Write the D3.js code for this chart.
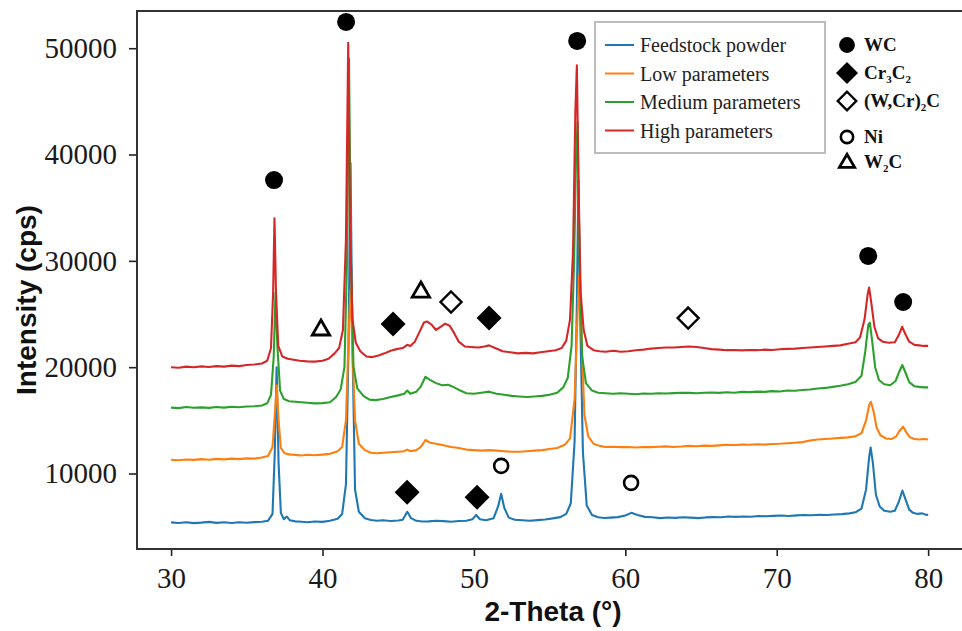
<!DOCTYPE html>
<html>
<head>
<meta charset="utf-8">
<script src="https://cdn.jsdelivr.net/npm/d3@7"></script>
<style>
  body { margin:0; background:#fff; }
  svg { display:block; }
</style>
</head>
<body>
<svg width="962" height="631"></svg>
<script>
// 2-theta / intensity pairs
const feedstock = [
  [30,5400],[30.5,5350],[31,5420],[31.5,5330],[32,5380],[32.5,5450],[33,5360],[33.5,5410],[34,5340],[34.5,5420],
  [35,5370],[35.5,5430],[36,5460],[36.4,5550],[36.7,6200],[36.85,12000],[36.97,20000],[37.1,11000],[37.25,6300],
  [37.45,5700],[37.65,5950],[37.85,5600],[38.2,5500],[38.6,5470],[39,5420],[39.5,5480],[40,5450],[40.5,5560],
  [41,5750],[41.3,6200],[41.55,9000],[41.72,22000],[41.85,39200],[41.98,22000],[42.15,8500],[42.4,6400],[42.8,5800],
  [43.2,5620],[43.6,5560],[44,5600],[44.5,5540],[45,5580],[45.3,5650],[45.6,6400],[45.85,5800],[46.2,5550],
  [46.6,5480],[47,5500],[47.5,5560],[48,5520],[48.5,5470],[49,5530],[49.5,5560],[49.9,5700],[50.15,6100],
  [50.4,5700],[50.8,5600],[51.3,5800],[51.6,6900],[51.8,8100],[52,6800],[52.3,5850],[52.7,5650],[53.2,5600],
  [53.7,5560],[54.2,5620],[54.7,5680],[55.2,5780],[55.7,5900],[56.1,6200],[56.4,7200],[56.65,13000],[56.8,26000],
  [56.9,37600],[57.03,24000],[57.2,12000],[57.45,7000],[57.8,6100],[58.2,5880],[58.6,5820],[59,5850],[59.5,5900],
  [60,6050],[60.4,6300],[60.8,6100],[61.3,5920],[61.8,5880],[62.3,5800],[62.8,5860],[63.3,5830],[63.8,5880],
  [64.3,5850],[64.8,5800],[65.3,5870],[65.8,5900],[66.3,5880],[66.8,5950],[67.3,5920],[67.8,5960],[68.3,5940],
  [68.8,6000],[69.3,5980],[69.8,6020],[70.3,6050],[70.8,6000],[71.3,6060],[71.8,6100],[72.3,6080],[72.8,6120],
  [73.3,6100],[73.8,6150],[74.3,6180],[74.8,6250],[75.2,6350],[75.6,6700],[75.9,8500],[76.1,11500],[76.2,12450],
  [76.35,11000],[76.55,8000],[76.8,6900],[77.1,6500],[77.5,6400],[77.8,6500],[78.05,7300],[78.3,8400],[78.5,7600],
  [78.75,6600],[79,6300],[79.3,6200],[79.6,6250],[79.9,6100],[80,6150]
];
const lowParams = [
  [30,11300],[30.5,11250],[31,11320],[31.5,11280],[32,11350],[32.5,11300],[33,11380],[33.5,11330],[34,11400],
  [34.5,11350],[35,11420],[35.5,11400],[36,11500],[36.4,11650],[36.7,12500],[36.85,15500],[36.98,18300],[37.1,15000],
  [37.25,12400],[37.5,11900],[37.8,11800],[38.2,11750],[38.6,11700],[39,11760],[39.5,11720],[40,11780],[40.5,11850],
  [41,12100],[41.3,12500],[41.55,15000],[41.75,24000],[41.85,27300],[41.97,22000],[42.15,15000],[42.4,12800],
  [42.8,12200],[43.2,11950],[43.6,11900],[44,11950],[44.5,12000],[45,12050],[45.4,12100],[45.6,12250],[45.8,12100],
  [46.2,12200],[46.5,12500],[46.8,13150],[47.1,12900],[47.5,12800],[48,12650],[48.5,12500],[49,12400],[49.5,12250],
  [50,12200],[50.5,12150],[51,12200],[51.5,12150],[52,12100],[52.5,12050],[53,12050],[53.5,12100],[54,12150],
  [54.5,12200],[55,12300],[55.5,12400],[56,12700],[56.35,13300],[56.65,17000],[56.82,24000],[56.95,28700],
  [57.1,23000],[57.3,15500],[57.55,13500],[57.9,12800],[58.3,12600],[58.7,12500],[59.2,12520],[59.7,12480],
  [60.2,12500],[60.7,12450],[61.2,12500],[61.7,12480],[62.2,12520],[62.7,12550],[63.2,12500],[63.7,12540],
  [64.2,12600],[64.7,12560],[65.2,12620],[65.7,12600],[66.2,12650],[66.7,12700],[67.2,12680],[67.7,12720],
  [68.2,12700],[68.7,12750],[69.2,12720],[69.7,12780],[70.2,12800],[70.7,12850],[71.2,12900],[71.7,12950],
  [72.2,13100],[72.7,13200],[73.2,13250],[73.7,13300],[74.2,13350],[74.7,13400],[75.2,13500],[75.6,13800],
  [75.9,15000],[76.1,16400],[76.22,16750],[76.4,15800],[76.6,14300],[76.85,13600],[77.2,13300],[77.6,13250],
  [77.9,13500],[78.1,14000],[78.35,14400],[78.55,13900],[78.8,13400],[79.1,13250],[79.4,13200],[79.7,13250],[80,13200]
];
const mediumParams = [
  [30,16200],[30.5,16150],[31,16250],[31.5,16180],[32,16220],[32.5,16170],[33,16260],[33.5,16200],[34,16280],
  [34.5,16230],[35,16300],[35.5,16320],[36,16400],[36.35,16600],[36.6,17400],[36.78,21000],[36.9,27000],[37.02,22000],
  [37.2,17800],[37.45,17000],[37.8,16800],[38.2,16750],[38.6,16700],[39,16650],[39.5,16600],[40,16620],[40.5,16700],
  [40.9,17200],[41.2,17900],[41.45,20000],[41.62,30000],[41.75,49000],[41.88,30000],[42.05,20000],[42.3,18000],
  [42.7,17300],[43.1,16950],[43.5,16900],[44,17000],[44.5,17200],[45,17350],[45.4,17500],[45.6,17800],[45.8,17500],
  [46.2,17700],[46.5,18200],[46.8,19100],[47.1,18800],[47.5,18500],[47.9,18300],[48.3,18350],[48.7,18100],
  [49.1,17800],[49.5,17550],[50,17500],[50.5,17600],[51,17700],[51.5,17500],[52,17400],[52.5,17300],[53,17250],
  [53.5,17200],[54,17250],[54.5,17300],[55,17400],[55.5,17600],[55.9,18100],[56.2,19000],[56.45,22000],
  [56.62,30000],[56.75,40000],[56.85,43000],[56.98,30000],[57.15,21000],[57.4,18500],[57.8,17800],[58.2,17600],
  [58.7,17550],[59.2,17500],[59.7,17550],[60.2,17500],[60.7,17450],[61.2,17520],[61.7,17500],[62.2,17550],
  [62.7,17520],[63.2,17560],[63.7,17600],[64.2,17580],[64.7,17550],[65.2,17600],[65.7,17620],[66.2,17580],
  [66.7,17640],[67.2,17600],[67.7,17680],[68.2,17650],[68.7,17700],[69.2,17680],[69.7,17750],[70.2,17720],
  [70.7,17800],[71.2,17780],[71.7,17850],[72.2,17900],[72.7,18000],[73.2,18050],[73.7,18150],[74.2,18250],
  [74.7,18400],[75.2,18600],[75.6,19200],[75.85,21500],[76.05,24000],[76.15,24200],[76.3,22500],[76.5,20000],
  [76.75,18800],[77.1,18400],[77.5,18300],[77.85,18700],[78.1,19600],[78.3,20200],[78.5,19500],[78.75,18600],
  [79.1,18200],[79.4,18150],[79.7,18100],[80,18100]
];
const highParams = [
  [30,20000],[30.5,19950],[31,20050],[31.5,20000],[32,20080],[32.5,20020],[33,20100],[33.5,20050],[34,20150],
  [34.5,20100],[35,20200],[35.5,20250],[36,20350],[36.35,20600],[36.6,21800],[36.74,27000],[36.83,34000],
  [36.93,27000],[37.08,22000],[37.35,21000],[37.7,20800],[38.1,20700],[38.5,20600],[39,20550],[39.5,20520],
  [40,20600],[40.4,20800],[40.8,21300],[41.1,21800],[41.35,23500],[41.55,32000],[41.7,50500],[41.82,33000],
  [41.98,24500],[42.2,22300],[42.5,21500],[42.9,21000],[43.3,20950],[43.7,21100],[44.1,21300],[44.5,21550],
  [44.9,21700],[45.3,21800],[45.6,22100],[45.8,22000],[46.1,22400],[46.4,23300],[46.7,24200],[46.9,24300],
  [47.2,24000],[47.5,23500],[47.8,23800],[48.1,24100],[48.4,23900],[48.7,23200],[49,22400],[49.4,21950],
  [49.8,21900],[50.3,21850],[50.7,21950],[51,22050],[51.4,21800],[51.9,21500],[52.4,21400],[52.9,21300],
  [53.4,21350],[53.9,21300],[54.4,21400],[54.9,21500],[55.4,21600],[55.8,21800],[56.1,22500],[56.35,24500],
  [56.55,31000],[56.7,44000],[56.8,48400],[56.9,38000],[57.05,27000],[57.25,23500],[57.5,22000],[57.9,21600],
  [58.3,21500],[58.7,21450],[59.2,21550],[59.7,21450],[60.2,21500],[60.7,21600],[61.2,21650],[61.7,21750],
  [62.2,21800],[62.7,21850],[63.2,21850],[63.7,21900],[64.2,21950],[64.7,21900],[65.2,21800],[65.7,21700],
  [66.2,21650],[66.7,21600],[67.2,21620],[67.7,21580],[68.2,21620],[68.7,21600],[69.2,21650],[69.7,21620],
  [70.2,21680],[70.7,21720],[71.2,21750],[71.7,21800],[72.2,21850],[72.7,21900],[73.2,21950],[73.7,22000],
  [74.2,22050],[74.7,22200],[75.2,22350],[75.5,22800],[75.8,24500],[76,26800],[76.1,27500],[76.25,26000],
  [76.45,23800],[76.7,22700],[77,22400],[77.4,22300],[77.8,22350],[78.05,23000],[78.28,23800],[78.5,23100],
  [78.75,22400],[79.1,22100],[79.4,22050],[79.7,22000],[80,22000]
];

const seriesNames = ['Feedstock powder', 'Low parameters', 'Medium parameters', 'High parameters'];
const seriesColors = ['#1f77b4', '#ff7f0e', '#2ca02c', '#d62728'];
const seriesData = [feedstock, lowParams, mediumParams, highParams];

const xTicks = [30, 40, 50, 60, 70, 80];
const yTicks = [10000, 20000, 30000, 40000, 50000];

// phase markers placed on the chart: [2theta, intensity]
const wcMarks = [[36.8,37600],[41.56,52470],[56.82,50690],[76.04,30460],[78.35,26130]];
const cr3c2Marks = [[44.66,24060],[51.0,24620],[45.59,8230],[50.21,7760]];
const wcrcMarks = [[48.49,26130],[64.15,24620]];
const niMarks = [[51.8,10720],[60.38,9120]];
const w2cMarks = [[39.9,23590],[46.5,27160]];

const svg = d3.select('svg');
const L = 137, R = 966, T = 11, B = 549;

const x = d3.scaleLinear().domain([27.75, 82.5]).range([L, R]);
const y = d3.scaleLinear().domain([2900, 53500]).range([B, T]);

// axes
const xAxis = svg.append('g').attr('transform', `translate(0,${B})`)
  .call(d3.axisBottom(x).tickValues(xTicks).tickSize(7).tickPadding(11).tickSizeOuter(0));
const yAxis = svg.append('g').attr('transform', `translate(${L},0)`)
  .call(d3.axisLeft(y).tickValues(yTicks).tickFormat(d3.format('d')).tickSize(8).tickPadding(12).tickSizeOuter(0));
[xAxis, yAxis].forEach(a => {
  a.select('.domain').remove();
  a.selectAll('line').attr('stroke', '#222').attr('stroke-width', 1.6);
  a.selectAll('text').attr('font-family', '"Liberation Serif", "Times New Roman", serif')
    .attr('font-size', 29).attr('fill', '#1a1a1a');
});

// traces
const line = d3.line().x(d => x(d[0])).y(d => y(d[1]));
svg.append('g').selectAll('path').data(seriesData).enter().append('path')
  .attr('d', line).attr('fill', 'none')
  .attr('stroke', (d, i) => seriesColors[i]).attr('stroke-width', 2.1)
  .attr('stroke-linejoin', 'round');

// frame
svg.append('rect').attr('x', L).attr('y', T).attr('width', R - L).attr('height', B - T)
  .attr('fill', 'none').attr('stroke', '#333').attr('stroke-width', 2);

// square diamond (rotated square) of given diagonal
function diamond(d) {
  const h = d / 2;
  return `M0,${-h}L${h},0L0,${h}L${-h},0Z`;
}

// marker shapes
function drawMark(g, kind, cx, cy, s = 1) {
  if (kind === 'wc') {
    g.append('circle').attr('cx', cx).attr('cy', cy).attr('r', 9 * s).attr('fill', '#000');
  } else if (kind === 'cr') {
    g.append('path').attr('d', diamond(25 * s))
      .attr('transform', `translate(${cx},${cy})`).attr('fill', '#000');
  } else if (kind === 'wcr') {
    g.append('path').attr('d', diamond(21 * s))
      .attr('transform', `translate(${cx},${cy})`)
      .attr('fill', 'none').attr('stroke', '#000').attr('stroke-width', 2.4);
  } else if (kind === 'ni') {
    g.append('circle').attr('cx', cx).attr('cy', cy).attr('r', 7 * s)
      .attr('fill', 'none').attr('stroke', '#000').attr('stroke-width', 2.6);
  } else if (kind === 'w2c') {
    g.append('path').attr('d', d3.symbol(d3.symbolTriangle, 130 * s * s)())
      .attr('transform', `translate(${cx},${cy + 1})`)
      .attr('fill', 'none').attr('stroke', '#000').attr('stroke-width', 2.8).attr('stroke-linejoin', 'miter');
  }
}
const marks = svg.append('g');
[['wc', wcMarks], ['cr', cr3c2Marks], ['wcr', wcrcMarks], ['ni', niMarks], ['w2c', w2cMarks]]
  .forEach(([k, arr]) => arr.forEach(d => drawMark(marks, k, x(d[0]), y(d[1]))));

// series legend
const leg = svg.append('g');
leg.append('rect').attr('x', 595).attr('y', 22).attr('width', 230).attr('height', 131)
  .attr('fill', '#fff').attr('stroke', '#bdbdbd').attr('stroke-width', 2);
seriesNames.forEach((n, i) => {
  const yy = 45 + i * 28.5;
  leg.append('line').attr('x1', 605).attr('x2', 634).attr('y1', yy).attr('y2', yy)
    .attr('stroke', seriesColors[i]).attr('stroke-width', 2);
  leg.append('text').attr('x', 640).attr('y', yy + 7).text(n)
    .attr('font-family', '"Liberation Serif", "Times New Roman", serif').attr('font-size', 20).attr('fill', '#222');
});

// phase legend
const phases = [
  {k: 'wc', parts: [['WC', 0]]},
  {k: 'cr', parts: [['Cr', 0], ['3', 1], ['C', 0], ['2', 1]]},
  {k: 'wcr', parts: [['(W,Cr)', 0], ['2', 1], ['C', 0]]},
  {k: 'ni', parts: [['Ni', 0]]},
  {k: 'w2c', parts: [['W', 0], ['2', 1], ['C', 0]]}
];
const phaseRows = [45, 73, 101, 137, 162];
const pl = svg.append('g');
phases.forEach((p, i) => {
  const yy = phaseRows[i];
  drawMark(pl, p.k, 847, yy, 0.88);
  const t = pl.append('text').attr('x', 864).attr('y', yy + 6)
    .attr('font-family', '"Liberation Serif", "Times New Roman", serif')
    .attr('font-weight', 'bold').attr('font-size', 19).attr('fill', '#111');
  let sub = false;
  p.parts.forEach(([s, isSub]) => {
    const ts = t.append('tspan').text(s);
    if (isSub && !sub) { ts.attr('dy', 4).attr('font-size', 11); sub = true; }
    else if (!isSub && sub) { ts.attr('dy', -4); sub = false; }
    else if (isSub) ts.attr('font-size', 11);
  });
});

// axis titles
svg.append('text').attr('transform', 'translate(36,300) rotate(-90)')
  .attr('text-anchor', 'middle').text('Intensity (cps)')
  .attr('font-family', '"Liberation Sans", Arial, sans-serif').attr('font-weight', 'bold')
  .attr('font-size', 28).attr('fill', '#111');
svg.append('text').attr('x', 553).attr('y', 621)
  .attr('text-anchor', 'middle').text('2-Theta (°)')
  .attr('font-family', '"Liberation Sans", Arial, sans-serif').attr('font-weight', 'bold')
  .attr('font-size', 28).attr('fill', '#111');
</script>
</body>
</html>
